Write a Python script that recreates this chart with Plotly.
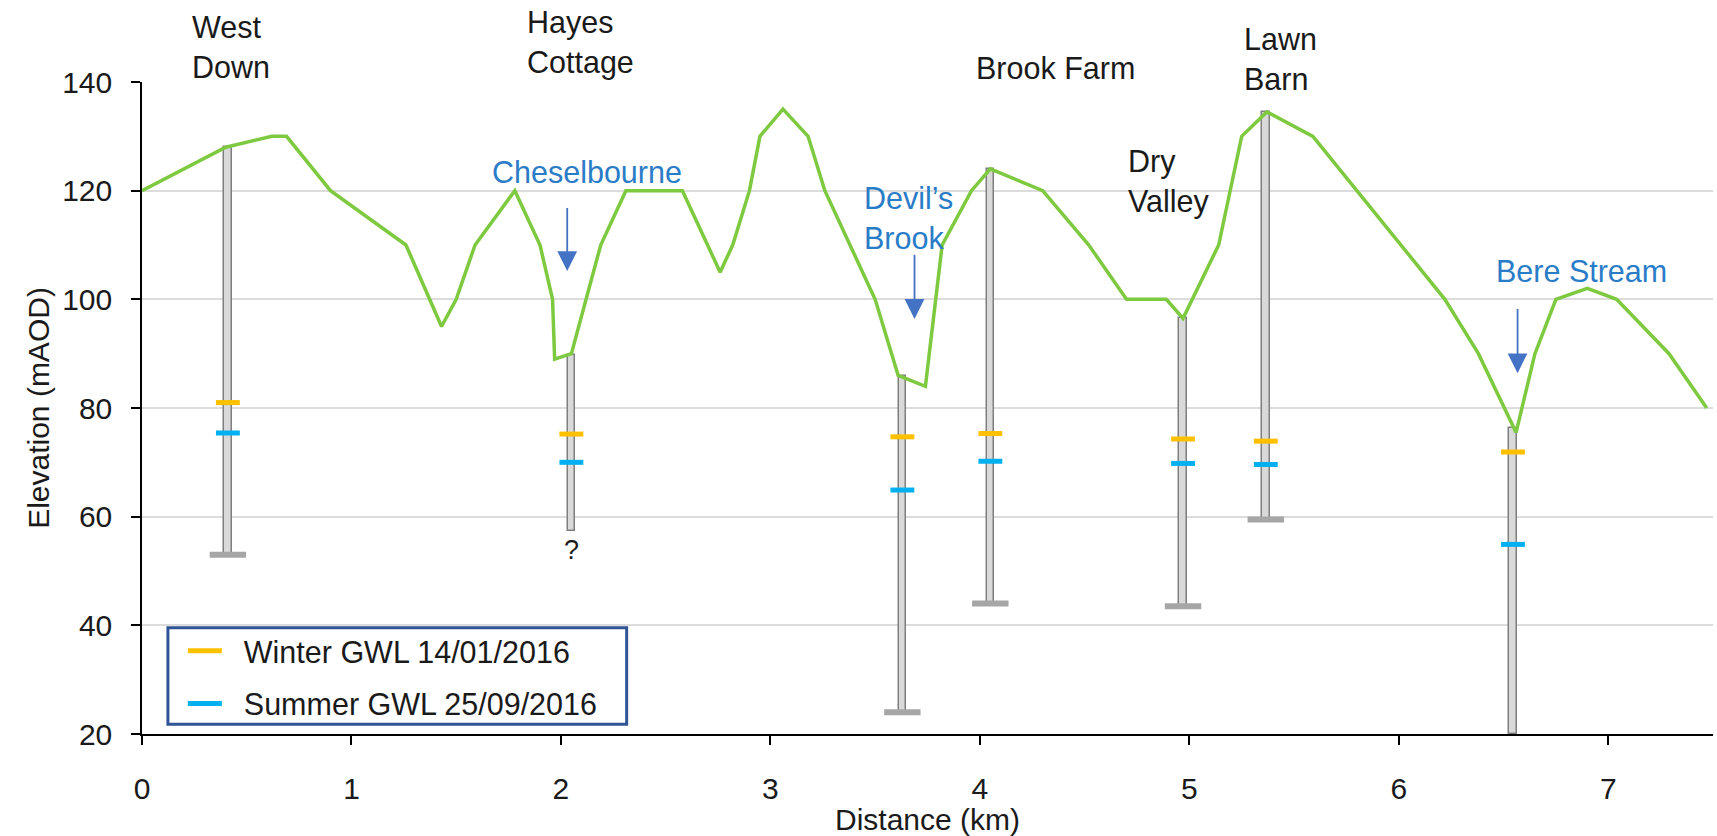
import plotly.graph_objects as go

# Ground surface profile along the section line
terrain_km = [0, 0.40, 0.62, 0.69, 0.90, 1.26, 1.43, 1.50, 1.59, 1.78, 1.90, 1.96, 1.97,
              2.05, 2.19, 2.31, 2.58, 2.76, 2.82, 2.90, 2.95, 3.06, 3.18, 3.26, 3.50,
              3.61, 3.74, 3.82, 3.96, 4.05, 4.30, 4.52, 4.70, 4.89, 4.97, 5.14, 5.25,
              5.37, 5.59, 6.22, 6.38, 6.50, 6.56, 6.65, 6.75, 6.90, 7.04, 7.29, 7.47]
terrain_m = [120, 128, 130, 130, 120, 110, 95, 100, 110, 120, 110, 100, 89,
             90, 110, 120, 120, 105, 110, 120, 130, 135, 130, 120, 100,
             86, 84, 110, 120, 124, 120, 110, 100, 100, 96.5, 110, 130,
             134.5, 130, 100, 90, 80.5, 75.5, 90, 100, 102, 100, 90, 80]

# Boreholes: position, top, bottom, base cap and groundwater levels
bh_km = [0.41, 2.05, 3.63, 4.05, 4.97, 5.365, 6.545]
bh_top = [128, 89.8, 85.8, 124, 96.5, 134.5, 76.3]
bh_bottom = [53, 57.4, 24, 44, 43.5, 59.5, 20]
bh_cap = [53, None, 24, 44, 43.5, 59.5, None]
gwl_winter = [81.0, 75.2, 74.7, 75.3, 74.3, 73.9, 71.9]
gwl_summer = [75.4, 70.0, 64.9, 70.2, 69.8, 69.6, 54.9]

# Site names (elevations in mAOD; some sit above the top of the axis)
site_labels = ["West<br>Down", "Hayes<br>Cottage", "Brook Farm", "Dry<br>Valley", "Lawn<br>Barn"]
site_km = [0.23, 1.83, 3.97, 4.70, 5.25]
site_m = [146.5, 147.3, 142.5, 121.7, 144.2]

# Streams with arrows pointing at the valley floor
stream_labels = ["Cheselbourne", "Devil’s<br>Brook", "Bere Stream"]
stream_label_km = [2.125, 3.438, 6.87]
stream_label_m = [123.4, 115.0, 105.3]
stream_anchor = ["center", "left", "center"]
arrow_km = [2.03, 3.688, 6.567]
arrow_tail_m = [117.1, 108.5, 98.5]
arrow_tip_m = [105.2, 96.4, 86.4]

Y_MIN, Y_MAX = 20, 140
FONT = "Liberation Sans, Arial, sans-serif"
TXT = "#1a1a1a"
DASH_HALF = 0.057   # half length of a groundwater-level dash, km


def dash_xy(xs, ys):
    px, py = [], []
    for x, y in zip(xs, ys):
        px += [x - DASH_HALF, x + DASH_HALF, None]
        py += [y, y, None]
    return px, py


def to_paper(m):
    return (m - Y_MIN) / (Y_MAX - Y_MIN)


fig = go.Figure()

# Borehole columns
fig.add_trace(go.Bar(
    x=bh_km, y=[t - b for t, b in zip(bh_top, bh_bottom)], base=bh_bottom,
    width=0.036, marker=dict(color="#d9d9d9", line=dict(color="#7f7f7f", width=1.5)),
    showlegend=False, hoverinfo="skip"))

# Base caps
fig.add_trace(go.Scatter(
    x=[x for x, c in zip(bh_km, bh_cap) if c is not None],
    y=[c for c in bh_cap if c is not None],
    mode="markers", showlegend=False, hoverinfo="skip",
    marker=dict(symbol="line-ew", size=26, line=dict(color="#a6a6a6", width=6))))

# Ground surface
fig.add_trace(go.Scatter(
    x=terrain_km, y=terrain_m, mode="lines", showlegend=False,
    line=dict(color="#7dc93f", width=3.5)))

NB = "\u00a0\u00a0"
wx, wy = dash_xy(bh_km, gwl_winter)
sx, sy = dash_xy(bh_km, gwl_summer)
fig.add_trace(go.Scatter(x=wx, y=wy, mode="lines", name=NB + "Winter GWL 14/01/2016",
                         legendgroup="w", line=dict(color="#ffc000", width=5)))
fig.add_trace(go.Scatter(x=sx, y=sy, mode="lines", name=NB + "Summer GWL 25/09/2016",
                         legendgroup="s", line=dict(color="#00b0f0", width=5)))

annotations = []
for t, x, y in zip(site_labels, site_km, site_m):
    annotations.append(dict(x=x, y=to_paper(y), xref="x", yref="paper", text=t,
                            showarrow=False, xanchor="left", yanchor="middle",
                            align="left", font=dict(family=FONT, size=30.5, color=TXT)))
for t, x, y, a in zip(stream_labels, stream_label_km, stream_label_m, stream_anchor):
    annotations.append(dict(x=x, y=y, xref="x", yref="y", text=t, showarrow=False,
                            xanchor=a, yanchor="middle", align="left",
                            font=dict(family=FONT, size=30.5, color="#2a7cc7")))
for x, y0, y1 in zip(arrow_km, arrow_tail_m, arrow_tip_m):
    annotations.append(dict(x=x, y=y1, ax=x, ay=y0, xref="x", yref="y",
                            axref="x", ayref="y", text="", showarrow=True,
                            arrowhead=2, arrowsize=2.2, arrowwidth=1.8,
                            arrowcolor="#4472c4", standoff=0))
annotations.append(dict(x=bh_km[1], y=bh_bottom[1], xref="x", yref="y", text="?",
                        showarrow=False, yanchor="top", yshift=-2,
                        font=dict(family=FONT, size=27, color=TXT)))

fig.update_layout(
    width=1717, height=836,
    margin=dict(l=142, r=4, t=82, b=98),
    paper_bgcolor="white", plot_bgcolor="white",
    font=dict(family=FONT, size=30, color=TXT),
    annotations=annotations,
    showlegend=True,
    legend=dict(x=0.026, y=0.168, xanchor="left", yanchor="top",
                bgcolor="rgba(0,0,0,0)", borderwidth=0, tracegroupgap=10,
                font=dict(family=FONT, size=30.5, color=TXT), itemwidth=34),
    shapes=[dict(type="rect", xref="paper", yref="paper",
                 x0=0.0165, x1=0.3085, y0=0.015, y1=0.163,
                 line=dict(color="#2f5597", width=3), fillcolor="white", layer="below")],
    bargap=0,
)
fig.update_xaxes(range=[0, 7.5], dtick=1, showgrid=False, zeroline=False,
                 showline=True, linecolor="#000", linewidth=1.5,
                 ticks="outside", ticklen=9, tickcolor="#000", tickwidth=1.5,
                 ticklabelstandoff=18,
                 title=dict(text="Distance (km)", standoff=6,
                            font=dict(family=FONT, size=30, color=TXT)))
fig.update_yaxes(range=[Y_MIN, Y_MAX], dtick=20, showgrid=True, gridcolor="#dcdcdc",
                 gridwidth=2, zeroline=False,
                 showline=True, linecolor="#000", linewidth=1.5,
                 ticks="outside", ticklen=9, tickcolor="#000", tickwidth=1.5,
                 ticklabelstandoff=13,
                 title=dict(text="Elevation (mAOD)", standoff=4,
                            font=dict(family=FONT, size=30, color=TXT)))

fig.write_html("out.html")
